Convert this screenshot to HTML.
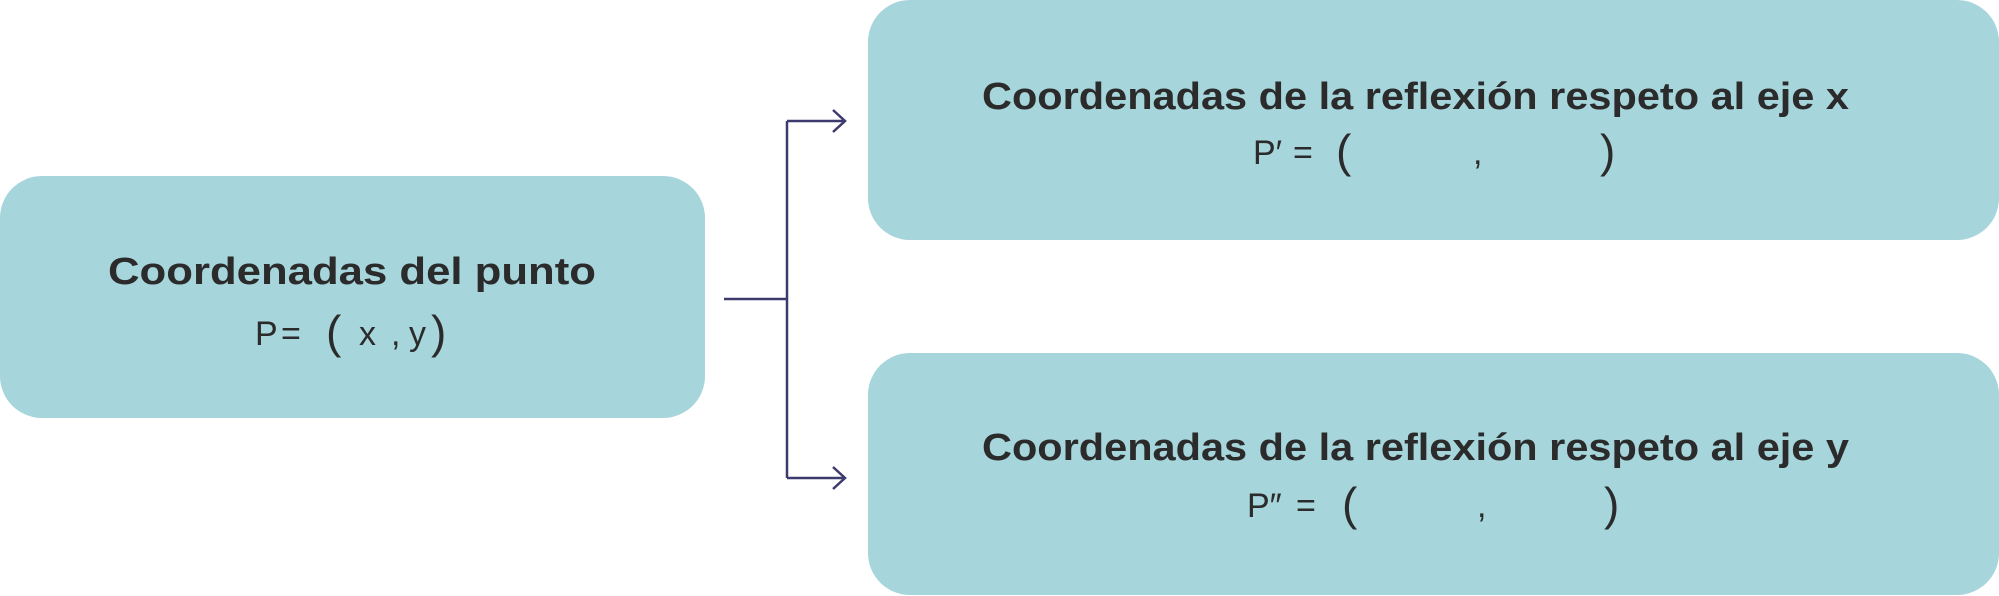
<!DOCTYPE html>
<html><head><meta charset="utf-8"><style>html,body{margin:0;padding:0;background:#fff}svg{display:block}</style></head>
<body>
<svg width="1999" height="596" viewBox="0 0 1999 596" xmlns="http://www.w3.org/2000/svg">
<rect x="0" y="176" width="705" height="242" rx="42" fill="#a6d5dc"/>
<rect x="868" y="0" width="1131" height="240" rx="42" fill="#a6d5dc"/>
<rect x="868" y="353" width="1131" height="242" rx="42" fill="#a6d5dc"/>
<g stroke="#3d3a6e" stroke-width="2.5" fill="none">
<path d="M724 299 H787 M787 121 V478 M787 121 H843 M787 478 H843"/>
<path d="M833 110 L845 121 L833 132 M833 467 L845 478 L833 489"/>
</g>
<g font-family="Liberation Sans, sans-serif" fill="#2b2b2b">
<text x="108" y="284" font-weight="bold" font-size="38" textLength="488" lengthAdjust="spacingAndGlyphs">Coordenadas del punto</text>
<text x="982" y="109" font-weight="bold" font-size="38" textLength="867" lengthAdjust="spacingAndGlyphs">Coordenadas de la reflexión respeto al eje x</text>
<text x="982" y="460" font-weight="bold" font-size="38" textLength="867" lengthAdjust="spacingAndGlyphs">Coordenadas de la reflexión respeto al eje y</text>
<g font-size="34">
<text x="255" y="345">P</text><text x="281" y="345">=</text>
<text x="326" y="348" font-size="46">(</text><text x="359" y="345">x</text><text x="391" y="345">,</text>
<text x="409" y="345">y</text><text x="431" y="348" font-size="46">)</text>
<text x="1253" y="164">P′</text><text x="1293" y="164">=</text>
<text x="1336" y="167" font-size="46">(</text><text x="1473" y="164">,</text><text x="1600" y="167" font-size="46">)</text>
<text x="1247" y="517">P″</text><text x="1296" y="517">=</text>
<text x="1342" y="520" font-size="46">(</text><text x="1477" y="517">,</text><text x="1604" y="520" font-size="46">)</text>
</g>
</g>
</svg>
</body></html>
